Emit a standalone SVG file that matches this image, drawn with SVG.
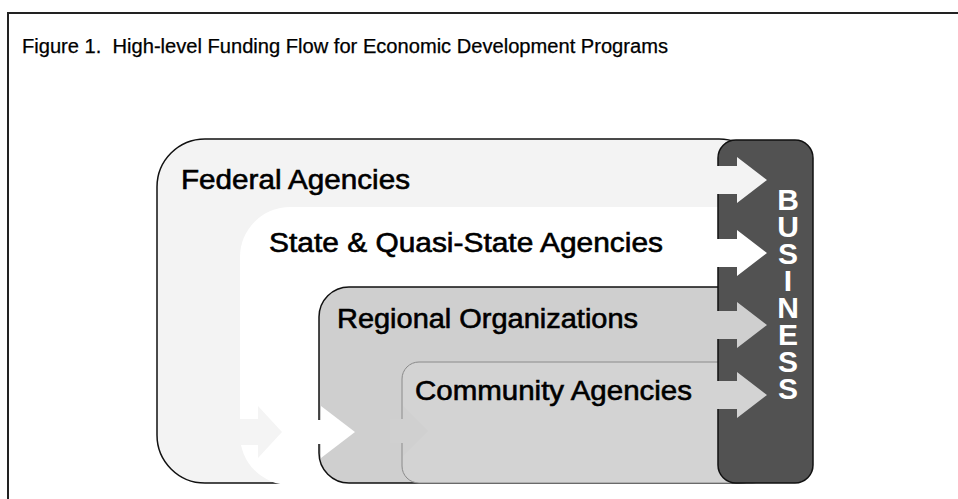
<svg xmlns="http://www.w3.org/2000/svg" width="958" height="499" viewBox="0 0 958 499">
<style>
.lbl{font-family:"Liberation Sans",Arial,sans-serif;font-size:27px;fill:#000;stroke:#000;stroke-width:0.6;}
.title{font-family:"Liberation Sans",Arial,sans-serif;font-size:19.5px;fill:#000;stroke:#000;stroke-width:0.25;}
.biz{font-family:"Liberation Sans",Arial,sans-serif;font-size:30px;font-weight:bold;fill:#fff;text-anchor:middle;}
</style>
<rect x="0" y="0" width="958" height="499" fill="#fff"/>
<g id="frame">
<line x1="7" y1="13" x2="958" y2="13" stroke="#222" stroke-width="2"/>
<line x1="8" y1="13" x2="8" y2="499" stroke="#222" stroke-width="2"/>
<text class="title" x="22" y="53" xml:space="preserve" textLength="646" lengthAdjust="spacingAndGlyphs">Figure 1.  High-level Funding Flow for Economic Development Programs</text>
</g>
<g id="federal">
<rect x="157" y="139" width="610" height="344" rx="48" fill="#f3f3f3" stroke="#111" stroke-width="1.5"/>
<text class="lbl" x="181" y="189" textLength="229" lengthAdjust="spacingAndGlyphs">Federal Agencies</text>
</g>
<g id="state">
<rect x="240" y="207" width="530" height="278" rx="50" fill="#fff"/>
<text class="lbl" x="269" y="252" textLength="394" lengthAdjust="spacingAndGlyphs">State &amp; Quasi-State Agencies</text>
</g>
<g id="regional">
<rect x="319" y="287" width="450" height="196" rx="30" fill="#cfcfcf" stroke="#111" stroke-width="1.5"/>
<text class="lbl" x="337" y="328" textLength="301" lengthAdjust="spacingAndGlyphs">Regional Organizations</text>
</g>
<g id="community">
<rect x="402" y="362" width="367" height="121" rx="17" fill="#d3d3d3" stroke="#8a8a8a" stroke-width="1"/>
<text class="lbl" x="415" y="400" textLength="277" lengthAdjust="spacingAndGlyphs">Community Agencies</text>
</g>
<g id="business">
<rect x="718" y="140" width="95" height="343" rx="18" fill="#525252" stroke="#111" stroke-width="1.5"/>
<text class="biz" x="788" y="210"><tspan x="788">B</tspan><tspan x="788" dy="27">U</tspan><tspan x="788" dy="27">S</tspan><tspan x="788" dy="27">I</tspan><tspan x="788" dy="27">N</tspan><tspan x="788" dy="27">E</tspan><tspan x="788" dy="27">S</tspan><tspan x="788" dy="27">S</tspan></text>
</g>
<g id="connectors">
<path d="M240 419 H258 V406 L282 432 L258 458 V445 H240 Z" fill="#f4f4f4"/>
<path d="M300 420 H321 V406 L355 432 L321 458 V444 H300 Z" fill="#fff"/>
<path d="M390 419 H403 V406 L428 431 L403 456 V443 H390 Z" fill="#d0d0d0"/>
<path d="M700 166 H737 V157 L767 180 L737 203 V194 H700 Z" fill="#f3f3f3"/>
<path d="M700 239 H737 V230 L767 253 L737 276 V267 H700 Z" fill="#fff"/>
<path d="M700 311 H737 V302 L767 325 L737 348 V339 H700 Z" fill="#cfcfcf"/>
<path d="M700 381 H737 V372 L767 395 L737 418 V409 H700 Z" fill="#d3d3d3"/>
</g>
</svg>
